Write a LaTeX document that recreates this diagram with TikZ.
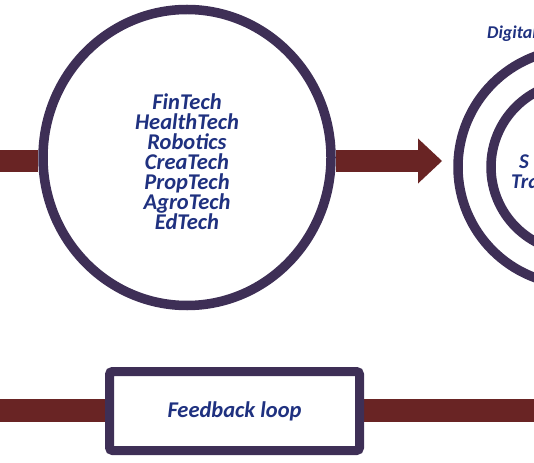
\documentclass[tikz,border=0pt]{standalone}
\usepackage{fontspec}
\setmainfont{Carlito}
\usetikzlibrary{arrows.meta,shapes.geometric,backgrounds}
\definecolor{ringc}{HTML}{3E2F56}
\definecolor{barc}{HTML}{692424}
\definecolor{txtc}{HTML}{1F3180}
\begin{document}
\begin{tikzpicture}[x=1pt,y=-1pt,
  ring/.style={draw=ringc,line width=9.5pt,fill=white,inner sep=0pt},
  bar/.style={draw=barc,line width=22.5pt},
  lbl/.style={text=txtc,font=\fontsize{22.5}{20}\selectfont\bfseries\itshape},
  smalllbl/.style={text=txtc,inner sep=0pt,font=\fontsize{18}{18}\selectfont\bfseries\itshape},
  midlbl/.style={text=txtc,inner sep=0pt,font=\fontsize{21}{21}\selectfont\bfseries\itshape}]
\useasboundingbox (0,0) rectangle (534,462);
\clip (0,0) rectangle (534,462);
% nodes
\node[ring,ellipse,minimum width=288pt,minimum height=296pt] (tech) at (187,157.5) {};
\node[align=center,lbl,inner sep=0pt] (techtxt) at (187,162)
  {FinTech\\HealthTech\\Robotics\\CreaTech\\PropTech\\AgroTech\\EdTech};
\node[ring,circle,minimum size=236pt] (outer) at (576,167) {};
\node[ring,circle,minimum size=170pt] (inner) at (576,167) {};
\node[draw=ringc,line width=9pt,fill=white,rounded corners=3pt,minimum width=250pt,minimum height=79pt,lbl] (fb) at (234.5,411) {Feedback loop};
\node[smalllbl,anchor=base west] (digital) at (487,39) {Digital};
\node[midlbl,anchor=base west] (s) at (519,168) {S};
\node[midlbl,anchor=base west] (tra) at (511,189) {Tra};
% free ends
\coordinate (lin) at (0,161);
\coordinate (arr) at (442,161);
\coordinate (bl) at (0,410.5);
\coordinate (br) at (534,410.5);
% connectors behind
\begin{scope}[on background layer]
\draw[bar] (lin) -- (tech.west |- lin);
\draw[bar,-{Triangle[width=45pt,length=24pt,line width=0pt]}] (tech.east |- arr) -- (arr);
\draw[bar] (bl) -- (fb.west |- bl);
\draw[bar] (fb.east |- br) -- (br);
\end{scope}
\end{tikzpicture}
\end{document}
